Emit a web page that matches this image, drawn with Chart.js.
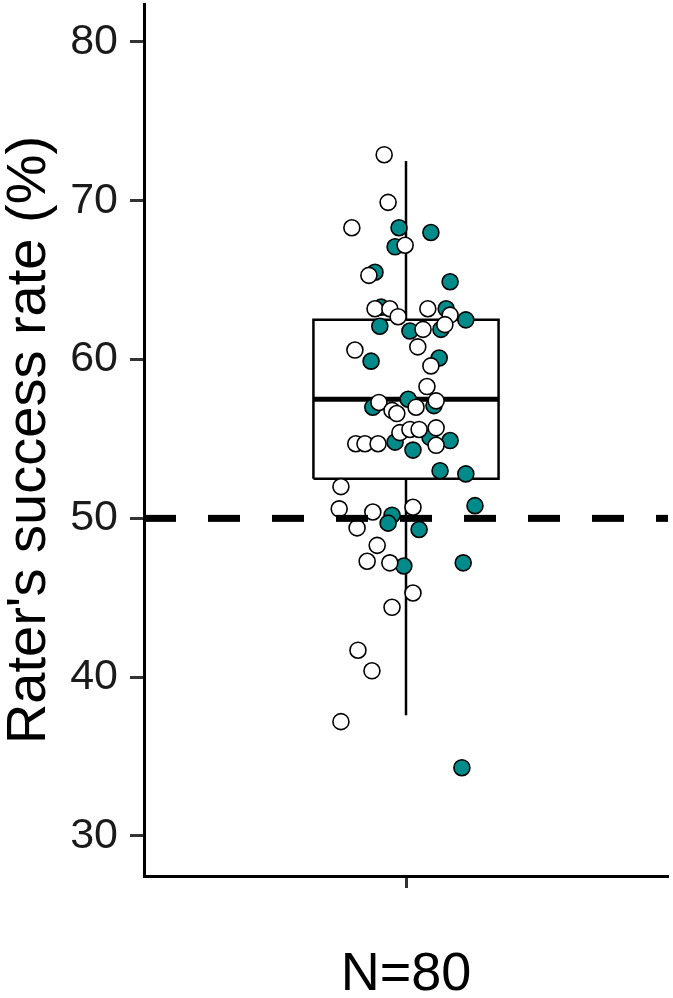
<!DOCTYPE html>
<html>
<head>
<meta charset="utf-8">
<script src="https://cdn.jsdelivr.net/npm/chart.js@4/dist/chart.umd.min.js"></script>
<style>
  html, body { margin: 0; padding: 0; background: #fff; }
  #wrap { width: 673px; height: 998px; }
</style>
</head>
<body>
<div id="wrap"><canvas id="chart" width="673" height="998"></canvas></div>
<script>
// axis
const yTicks = [30, 40, 50, 60, 70, 80];
const xLabel = "N=80";
const yTitle = "Rater's success rate (%)";
const refLine = 50;

// box statistics: lower whisker, q1, median, q3, upper whisker
const boxStats = [37.6, 52.5, 57.5, 62.5, 72.5];

// jittered points, x = horizontal offset from the box centre
const tealX = [-0.016, 0.057, -0.025, -0.071, 0.101, -0.057, -0.060, 0.092, 0.137, 0.009,
  0.080, -0.080, 0.076, -0.076, 0.005, 0.064, -0.025, 0.016, 0.055, 0.101,
  0.078, 0.137, -0.032, -0.041, 0.030, 0.158, -0.005, 0.131, 0.128];
const tealY = [68.3, 68.0, 67.1, 65.5, 64.9, 63.3, 62.1, 63.2, 62.5, 61.8,
  61.9, 59.9, 60.1, 57.0, 57.5, 57.1, 54.8, 54.3, 55.1, 54.9,
  53.0, 52.8, 50.2, 49.7, 49.3, 50.8, 47.0, 47.2, 34.3];

const whiteX = [-0.050, -0.041, -0.124, -0.002, -0.085, -0.071, -0.037, -0.018, 0.050, 0.101,
  0.039, 0.089, -0.117, 0.027, 0.057, 0.048, -0.062, -0.032, -0.021, 0.023,
  0.069, -0.115, -0.094, -0.064, -0.014, 0.009, 0.030, 0.069, 0.069, -0.149,
  -0.153, -0.076, 0.016, -0.112, -0.066, -0.089, -0.037, 0.016, -0.032, -0.110,
  -0.078, -0.149];
const whiteY = [72.9, 69.9, 68.3, 67.2, 65.3, 63.2, 63.2, 62.7, 63.2, 62.8,
  61.9, 62.2, 60.6, 60.8, 59.6, 58.3, 57.3, 56.8, 56.6, 57.0,
  57.4, 54.7, 54.7, 54.7, 55.4, 55.6, 55.6, 55.7, 54.6, 52.0,
  50.6, 50.4, 50.7, 49.4, 48.3, 47.3, 47.2, 45.3, 44.4, 41.7,
  40.4, 37.2];

const boxHalf = 0.212;
const xMin = -0.6, xMax = 0.6;
const [wLo, q1, med, q3, wHi] = boxStats;

const pts = (xs, ys) => xs.map((x, i) => ({ x: x, y: ys[i] }));
const seg = (x0, y0, x1, y1) => [{ x: x0, y: y0 }, { x: x1, y: y1 }];

const lineSet = (data, width, order, dash) => ({
  data: data,
  showLine: true,
  borderColor: "#000",
  borderWidth: width,
  borderDash: dash || [],
  pointRadius: 0,
  fill: false,
  order: order
});

new Chart(document.getElementById("chart"), {
  type: "scatter",
  data: {
    datasets: [
      lineSet([{ x: -boxHalf, y: q1 }, { x: boxHalf, y: q1 }, { x: boxHalf, y: q3 },
               { x: -boxHalf, y: q3 }, { x: -boxHalf, y: q1 }], 2.5, 4),
      lineSet(seg(0, q3, 0, wHi), 2.5, 4),
      lineSet(seg(0, wLo, 0, q1), 2.5, 4),
      lineSet(seg(-boxHalf, med, boxHalf, med), 5, 4),
      {
        data: pts(tealX, tealY),
        pointRadius: 8,
        pointBackgroundColor: "#008B8B",
        pointBorderColor: "#000",
        pointBorderWidth: 1.6,
        order: 2
      },
      {
        data: pts(whiteX, whiteY),
        pointRadius: 8,
        pointBackgroundColor: "#fff",
        pointBorderColor: "#000",
        pointBorderWidth: 1.6,
        order: 1
      },
      lineSet(seg(xMin, refLine, xMax, refLine), 7, 0, [32, 32])
    ]
  },
  options: {
    responsive: false,
    animation: false,
    layout: { autoPadding: false, padding: { top: 4, right: 5, left: 0, bottom: 0 } },
    plugins: { legend: { display: false }, tooltip: { enabled: false } },
    scales: {
      x: {
        type: "linear",
        min: xMin,
        max: xMax,
        afterBuildTicks: s => { s.ticks = [{ value: 0 }]; },
        afterFit: s => { s.height = 122; s.paddingLeft = 0; s.paddingRight = 0; },
        ticks: { callback: () => "", padding: 0 },
        grid: { display: true, drawOnChartArea: false, drawTicks: true, tickLength: 12, tickWidth: 3, tickColor: "#333" },
        border: { display: true, color: "#000", width: 3 },
        title: {
          display: true,
          text: xLabel,
          color: "#000",
          font: { family: "Liberation Sans, Arial, sans-serif", size: 54, lineHeight: 0.8 },
          padding: { top: 0, bottom: 1 }
        }
      },
      y: {
        min: 27.48,
        max: 82.39,
        afterBuildTicks: s => { s.ticks = yTicks.map(v => ({ value: v })); },
        afterFit: s => { s.width = 144; s.paddingTop = 0; s.paddingBottom = 0; },
        ticks: {
          color: "#1a1a1a",
          padding: 12,
          font: { family: "Liberation Sans, Arial, sans-serif", size: 43 }
        },
        grid: { display: true, drawOnChartArea: false, drawTicks: true, tickLength: 14, tickWidth: 3, tickColor: "#333" },
        border: { display: true, color: "#000", width: 3 },
        title: {
          display: true,
          text: yTitle,
          color: "#000",
          font: { family: "Liberation Sans, Arial, sans-serif", size: 56, lineHeight: 1 },
          padding: { top: 2, bottom: 0 }
        }
      }
    }
  }
});
</script>
</body>
</html>
